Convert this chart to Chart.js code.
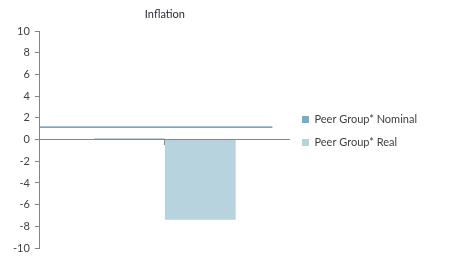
<!DOCTYPE html>
<html>
<head>
<meta charset="utf-8">
<script src="https://cdn.jsdelivr.net/npm/chart.js@4"></script>
<style>
  html, body { margin: 0; padding: 0; background: #fff; }
  #wrap { width: 457px; height: 265px; }
</style>
</head>
<body>
<div id="wrap"><canvas id="chart"></canvas></div>
<script>
// data
const categories = [0];                // one unlabeled group, centred on the axis
const xRange = [-0.5, 0.5];            // the one category spans the whole x axis
const seriesNames = ["Peer Group* Nominal", "Peer Group* Real"];
const nominalValues = [0.1];
const realValues = [-7.4];
const inflationLevel = 1.15;           // horizontal reference line
const inflationSpan = [-0.5, 0.43];    // x extent of that line, in axis units
const yTicks = [-10, -8, -6, -4, -2, 0, 2, 4, 6, 8, 10];

const fontFamily = "Lato, 'Open Sans', sans-serif";
Chart.defaults.font.family = fontFamily;
Chart.defaults.font.size = 11;
Chart.defaults.color = "#404040";

const toPoints = values => values.map((v, i) => ({ x: categories[i], y: v }));

const ctx = document.getElementById("chart").getContext("2d");

new Chart(ctx, {
  type: "bar",
  data: {
    datasets: [
      {
        label: seriesNames[0],
        data: toPoints(nominalValues),
        backgroundColor: "#77AEC6",
        borderWidth: 0
      },
      {
        label: seriesNames[1],
        data: toPoints(realValues),
        backgroundColor: "#B7D3DE",
        borderWidth: 0
      },
      {
        type: "line",
        label: "Inflation",
        data: inflationSpan.map(x => ({ x: x, y: inflationLevel })),
        borderColor: "#5683A4",
        borderWidth: 1.2,
        pointRadius: 0,
        fill: false
      }
    ]
  },
  options: {
    responsive: true,
    maintainAspectRatio: false,
    animation: false,
    layout: { padding: { left: 8, right: 30, top: 8, bottom: 17 } },
    datasets: {
      bar: { categoryPercentage: 0.566, barPercentage: 1.0 }
    },
    plugins: {
      title: {
        display: true,
        text: "Inflation",
        color: "#2a1f33",
        fullSize: false,
        font: { size: 11, weight: "normal" },
        padding: { top: 0, bottom: 10 }
      },
      legend: {
        position: "right",
        maxWidth: 200,
        // blank title only nudges the entries down a few pixels
        title: { display: true, text: " ", padding: 0, font: { size: 5 } },
        labels: {
          boxWidth: 7,
          boxHeight: 7,
          padding: 12,
          color: "#404040",
          font: { size: 11 },
          filter: item => item.datasetIndex < 2
        }
      },
      tooltip: { enabled: false }
    },
    scales: {
      x: {
        type: "linear",
        position: { y: 0 },
        min: xRange[0],
        max: xRange[1],
        offset: false,
        afterBuildTicks: axis => { axis.ticks = xRange.map(v => ({ value: v })); },
        grid: {
          drawOnChartArea: false,
          drawTicks: true,
          tickLength: 5,
          color: "#868686"
        },
        border: { color: "#868686" },
        ticks: { display: false }
      },
      y: {
        min: -10,
        max: 10,
        afterBuildTicks: axis => { axis.ticks = yTicks.map(v => ({ value: v })); },
        grid: {
          drawOnChartArea: false,
          drawTicks: true,
          tickLength: 5,
          color: "#868686"
        },
        border: { color: "#868686" },
        ticks: { color: "#404040", padding: 5 }
      }
    }
  }
});
</script>
</body>
</html>
